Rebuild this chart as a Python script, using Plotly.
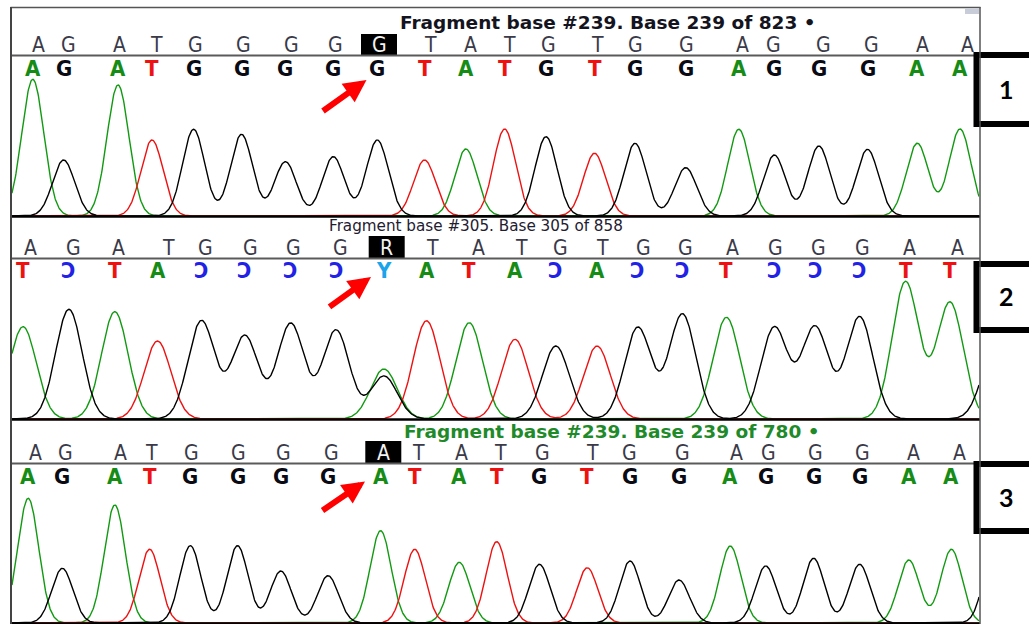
import numpy as np
import plotly.graph_objects as go

W, H = 1029, 624

# ---------------- data ----------------
# reference sequence shown on top of each panel
ref_seq_1 = list("AGATGGGGGTATGTGGAGGGAA")
ref_seq_2 = list("AGATGGGGRTATGTGGAGGGAA")
ref_seq_3 = list("AGATGGGGATATGTGGAGGGAA")
ref_x_1 = [38.5, 68, 119.5, 156, 195, 243, 291, 335, 379, 430, 470, 509, 548.9, 597.8, 635, 686, 742.9, 773.3, 823, 871, 922.5, 967]
ref_x_2 = [30, 73.3, 118.3, 168.3, 205, 250, 293.3, 340, 386.7, 432.3, 478.3, 521.9, 560.7, 602.9, 643.4, 685.6, 732.8, 775, 818.8, 862.7, 909.9, 957.1]
ref_x_3 = [35, 65, 120, 151.7, 191.7, 238.3, 283.3, 331.7, 383.3, 418.3, 461.7, 500, 542.2, 592.8, 629.9, 682.2, 736.2, 768.2, 815.5, 862.7, 913.3, 959]
highlight_index = 8

# called bases (displayed glyphs) and their peaks
called_1 = list("AGATGGGGGTATGTGGAGGGAA")
called_2 = ["T", "Ɔ", "T", "A", "Ɔ", "Ɔ", "Ɔ", "Ɔ", "Y", "A", "T", "A", "Ɔ", "A", "Ɔ", "Ɔ", "T", "Ɔ", "Ɔ", "Ɔ", "T", "T"]
called_3 = list("AGATGGGGATATGTGGAGGGAA")

peak_x_1 = [32.8, 63.6, 118, 152, 193.6, 241.5, 285.4, 333.3, 377.3, 424.5, 465.9, 504.6, 546, 594.5, 635, 685.7, 738.8, 774.3, 818.9, 867.5, 917.3, 960]
peak_h_1 = [136.7, 56, 131, 76, 86.7, 81.7, 54.3, 59.3, 76, 56, 67, 87, 79.3, 62.7, 72.7, 48.3, 86.7, 61, 70, 66.7, 72.7, 87]
dye_1 = list("AGATGGGGGTATGTGGAGGGAA")

peak_x_2 = [23, 68.9, 114.8, 157.5, 201.4, 244.8, 290.7, 336, 383.9, 426.5, 469.2, 515, 555.8, 597, 637.8, 682.4, 726.4, 774.3, 815, 859.6, 905.5, 950, 383.9, 995]
peak_h_2 = [92.3, 109.7, 107.3, 78, 98.3, 83.3, 95.7, 89, 50, 98.3, 96.3, 79.7, 73, 73, 91.7, 105, 101.7, 91.7, 92.3, 102.3, 137.3, 116.7, 43, 70]
dye_2 = list("AGATGGGGATATGTGGAGGGAA") + ["G", "G"]

peak_x_3 = [28.2, 62.3, 114.8, 149.6, 190.3, 237.5, 280.8, 328, 380.6, 414.7, 459.3, 496.7, 539.4, 587.3, 630, 679, 730.3, 765.7, 813.6, 859.6, 908.8, 951.4, 995]
peak_h_3 = [124.7, 54.7, 118, 73.7, 77.3, 77.3, 52, 47.3, 92.3, 73.7, 60.7, 81.3, 58.7, 55.3, 62, 43, 77, 57, 64.7, 58.7, 63, 73.7, 83]
dye_3 = list("AGATGGGGATATGTGGAGGGAA") + ["G"]

headers = ["Fragment base #239. Base 239 of 823 \u2022",
           "Fragment base #305. Base 305 of 858",
           "Fragment base #239. Base 239 of 780 \u2022"]
panel_labels = ["1", "2", "3"]

# ---------------- styling ----------------
TRACE_COL = {"A": "#119a11", "C": "#1616e0", "G": "#000000", "T": "#ee1111"}
CALL_COL = {"A": "#168c16", "G": "#0a0a14", "T": "#ee1111", "Ɔ": "#2222e6", "Y": "#1aa4ea"}
SIGMA = [11.0, 13.3, 10.5]
X0, X1 = 12, 979
NARROW = "Liberation Sans Narrow, DejaVu Sans Condensed, Liberation Sans"

def py(p):
    return 1 - p / H

def pxx(p):
    return p / W

panels = [
    dict(ref=ref_seq_1, refx=ref_x_1, called=called_1, px=peak_x_1, ph=peak_h_1, dye=dye_1,
         base=216, top=76, ref_y=45, call_y=68.5, head_y=22.5, sep_y=55.5, hl=(34, 55),
         head_font=dict(family="DejaVu Sans", size=18.5, color="#14141e", weight="bold"), head_x=398,
         arrow=((366.5, 80), (-45, 32)), box=(55, 124), lab_y=89),
    dict(ref=ref_seq_2, refx=ref_x_2, called=called_2, px=peak_x_2, ph=peak_h_2, dye=dye_2,
         base=419, top=279, ref_y=248, call_y=270.5, head_y=226, sep_y=258.5, hl=(236, 258),
         head_font=dict(family="DejaVu Sans", size=15.2, color="#1e2030"), head_x=327,
         arrow=((371, 277), (-43, 31)), box=(264, 330), lab_y=296),
    dict(ref=ref_seq_3, refx=ref_x_3, called=called_3, px=peak_x_3, ph=peak_h_3, dye=dye_3,
         base=623, top=483, ref_y=453, call_y=476, head_y=431, sep_y=463.5, hl=(441, 463),
         head_font=dict(family="DejaVu Sans", size=18.5, color="#1f8a2a", weight="bold"), head_x=402,
         arrow=((365, 481.5), (-44, 30)), box=(464, 531), lab_y=497),
]

fig = go.Figure()
xs = np.arange(X0, X1 + 0.5, 0.5)
shapes, annos = [], []
layout_axes = {}

for i, p in enumerate(panels):
    yname = "y" if i == 0 else f"y{i+1}"
    axkey = "yaxis" if i == 0 else f"yaxis{i+1}"
    layout_axes[axkey] = dict(domain=[py(p["base"]), py(p["top"])], range=[0, 140],
                              visible=False, anchor="x", fixedrange=True)
    for ch in ["A", "T", "G"]:
        sig = np.zeros_like(xs)
        for x, h, d in zip(p["px"], p["ph"], p["dye"]):
            if d == ch:
                sig += h * np.exp(-(xs - x) ** 2 / (2 * SIGMA[i] ** 2))
        if sig.max() > 0:
            fig.add_trace(go.Scatter(x=xs, y=sig, mode="lines", xaxis="x", yaxis=yname,
                                     line=dict(color=TRACE_COL[ch], width=1.4),
                                     hoverinfo="skip", showlegend=False))
    # header
    annos.append(dict(x=pxx(p["head_x"]), y=py(p["head_y"]), xref="paper", yref="paper",
                      text=headers[i], showarrow=False, xanchor="left", yanchor="middle",
                      font=p["head_font"]))
    # highlight box
    hx = p["refx"][highlight_index]
    shapes.append(dict(type="rect", xref="x", yref="paper", x0=hx - 18, x1=hx + 18,
                       y0=py(p["hl"][1]), y1=py(p["hl"][0]), fillcolor="#000000",
                       line=dict(width=0), layer="below"))
    # reference letters
    for j, (b, x) in enumerate(zip(p["ref"], p["refx"])):
        annos.append(dict(x=x, y=py(p["ref_y"]), xref="x", yref="paper", text=b,
                          showarrow=False, xanchor="center", yanchor="middle",
                          font=dict(family=NARROW, size=21,
                                    color="#f2f2f2" if j == highlight_index else "#3a3a48")))
    # called letters
    for b, x in zip(p["called"], p["px"]):
        annos.append(dict(x=x, y=py(p["call_y"]), xref="x", yref="paper", text=b,
                          showarrow=False, xanchor="center", yanchor="middle",
                          font=dict(family=NARROW, size=22, color=CALL_COL[b], weight="bold")))
    # separator line under reference letters
    shapes.append(dict(type="line", xref="paper", yref="paper", x0=pxx(11), x1=pxx(980),
                       y0=py(p["sep_y"]), y1=py(p["sep_y"]), line=dict(color="#5a5a5a", width=2)))
    # baseline / panel bottom
    shapes.append(dict(type="line", xref="paper", yref="paper", x0=pxx(11), x1=pxx(980),
                       y0=py(p["base"] + 0.5), y1=py(p["base"] + 0.5), line=dict(color="#000000", width=2.5)))
    # red arrow
    (tx, ty), (ax, ay) = p["arrow"]
    annos.append(dict(x=pxx(tx), y=py(ty), xref="paper", yref="paper", text="", showarrow=True,
                      ax=ax, ay=ay, arrowhead=2, arrowsize=0.75, arrowwidth=6, arrowcolor="#ff0000"))
    # numbered box on the right
    b0, b1 = p["box"]
    shapes.append(dict(type="rect", xref="paper", yref="paper", x0=pxx(976.5), x1=pxx(1045),
                       y0=py(b1), y1=py(b0), fillcolor="#ffffff", line=dict(color="#000000", width=6)))
    annos.append(dict(x=pxx(1007), y=py(p["lab_y"]), xref="paper", yref="paper", text=panel_labels[i],
                      showarrow=False, xanchor="center", yanchor="middle",
                      font=dict(family="Lato, Open Sans, Liberation Sans", size=25, color="#000000", weight="bold")))

# outer frame
shapes.append(dict(type="line", xref="paper", yref="paper", x0=pxx(10.5), x1=pxx(980.5), y0=py(7.5), y1=py(7.5),
                   line=dict(color="#555555", width=1.5)))
shapes.append(dict(type="line", xref="paper", yref="paper", x0=pxx(11), x1=pxx(11), y0=py(7), y1=py(624),
                   line=dict(color="#444444", width=2)))
shapes.append(dict(type="line", xref="paper", yref="paper", x0=pxx(980), x1=pxx(980), y0=py(7), y1=py(624),
                   line=dict(color="#555555", width=1.5)))
shapes.append(dict(type="rect", xref="paper", yref="paper", x0=pxx(965), x1=pxx(979), y0=py(14), y1=py(8.5),
                   fillcolor="#c8ccd8", line=dict(width=0)))

fig.update_layout(
    width=W, height=H, margin=dict(l=0, r=0, t=0, b=0),
    paper_bgcolor="#ffffff", plot_bgcolor="rgba(0,0,0,0)",
    xaxis=dict(domain=[pxx(X0), pxx(X1)], range=[X0, X1], visible=False, anchor="y", fixedrange=True),
    shapes=shapes, annotations=annos, showlegend=False,
    **layout_axes,
)

fig.write_html("out.html")
